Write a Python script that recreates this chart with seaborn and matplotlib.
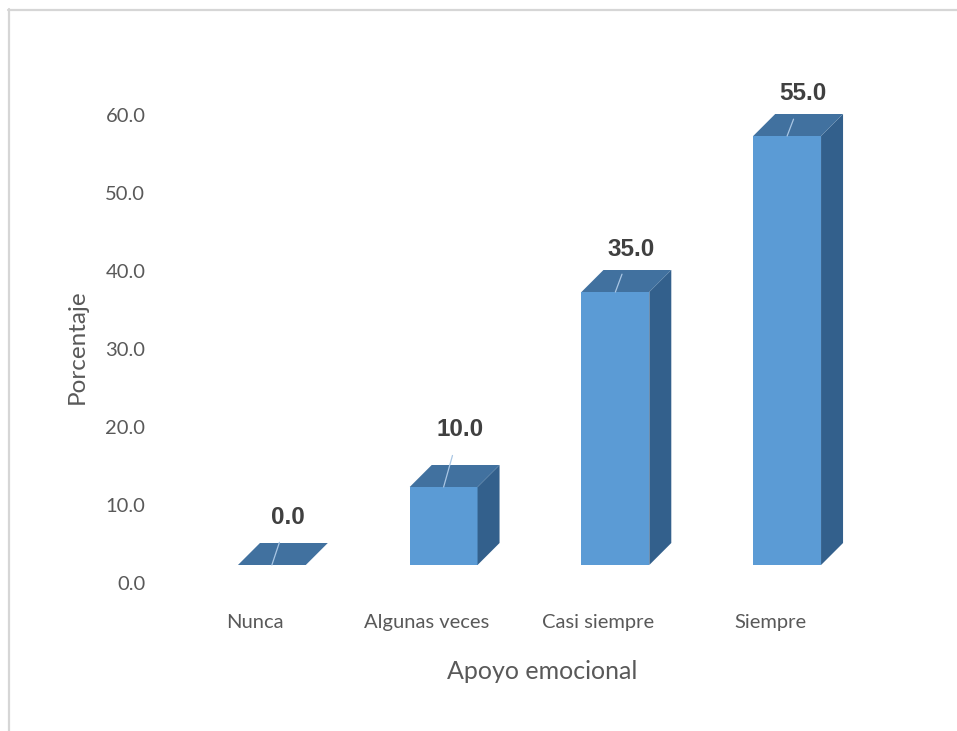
import matplotlib
matplotlib.use("Agg")
import matplotlib.pyplot as plt
import matplotlib.transforms as mtransforms
from matplotlib.patches import Polygon
from matplotlib.lines import Line2D
import seaborn as sns
import pandas as pd

# Data
categories = ["Nunca", "Algunas veces", "Casi siempre", "Siempre"]
percentages = [0.0, 10.0, 35.0, 55.0]
y_ticks = [0, 10, 20, 30, 40, 50, 60]

# Styling
FRONT = "#5b9bd5"
TOP = "#41719f"
SIDE = "#33608c"
LEADER = "#a9c6e4"
TEXT_GRAY = "#595959"
VALUE_TEXT = "#404040"
label_lift_px = [48, 57, 43, 42]

sns.set_theme(style="white")
plt.rcParams["font.family"] = ["Lato", "DejaVu Sans"]

W, H, DPI = 957, 731, 100
fig = plt.figure(figsize=(W / DPI, H / DPI), dpi=DPI)
ax = fig.add_axes([169 / W, (H - 583) / H, 687 / W, 507 / H])

df = pd.DataFrame({"cat": categories, "pct": percentages})
sns.barplot(data=df, x="cat", y="pct", color=FRONT, saturation=1,
            width=0.395, ax=ax, zorder=3, edgecolor="none")
ax.set_xlim(-0.5, len(categories) - 0.5)
ax.set_ylim(0, 65)

# Oblique projection: bars sit back from the floor edge
front = ax.transData + mtransforms.ScaledTranslation(17 / DPI, 18 / DPI, fig.dpi_scale_trans)
px_per_cat = 687 / 4
px_per_val = 507 / 65
ddx = 22 / px_per_cat
ddy = 22 / px_per_val

for i, bar in enumerate(ax.patches):
    bar.set_transform(front)
    x0 = bar.get_x()
    x1 = x0 + bar.get_width()
    h = bar.get_height()
    top = Polygon([(x0, h), (x1, h), (x1 + ddx, h + ddy), (x0 + ddx, h + ddy)],
                  closed=True, facecolor=TOP, edgecolor="none", transform=front, zorder=3)
    side = Polygon([(x1, 0), (x1, h), (x1 + ddx, h + ddy), (x1 + ddx, ddy)],
                   closed=True, facecolor=SIDE, edgecolor="none", transform=front, zorder=3)
    ax.add_patch(side)
    ax.add_patch(top)
    xc = x0 + bar.get_width() / 2
    ax.annotate(f"{h:.1f}", xy=(xc, h), xycoords=front,
                xytext=(16 * 72 / DPI, label_lift_px[i] * 72 / DPI), textcoords="offset points",
                ha="center", va="center", fontsize=17.5, fontweight="bold",
                family=["Liberation Sans", "DejaVu Sans"], color=VALUE_TEXT,
                arrowprops=dict(arrowstyle="-", color=LEADER, lw=0.9, shrinkA=8, shrinkB=0),
                zorder=5)

ax.set_yticks(y_ticks)
ax.set_yticklabels([f"{v:.1f}" for v in y_ticks])
ax.tick_params(axis="y", length=0, pad=17, labelsize=14.5, labelcolor=TEXT_GRAY)
ax.tick_params(axis="x", length=0, pad=22, labelsize=14.5, labelcolor=TEXT_GRAY)
for s in ax.spines.values():
    s.set_visible(False)

ax.set_xlabel("Apoyo emocional", fontsize=18, color=TEXT_GRAY)
ax.xaxis.set_label_coords(0.543, -0.152)
ax.set_ylabel("Porcentaje", fontsize=17.5, color=TEXT_GRAY)
ax.yaxis.set_label_coords(-0.118, 0.467)

# Light frame around the chart area
fig.add_artist(Line2D([8.5 / W, 8.5 / W], [0, (H - 9) / H], color="#d6d6d6", lw=1.6,
                      transform=fig.transFigure))
fig.add_artist(Line2D([8 / W, 1], [(H - 9.5) / H, (H - 9.5) / H], color="#d6d6d6", lw=1.6,
                      transform=fig.transFigure))

fig.savefig("out.png", dpi=DPI, facecolor="white")
